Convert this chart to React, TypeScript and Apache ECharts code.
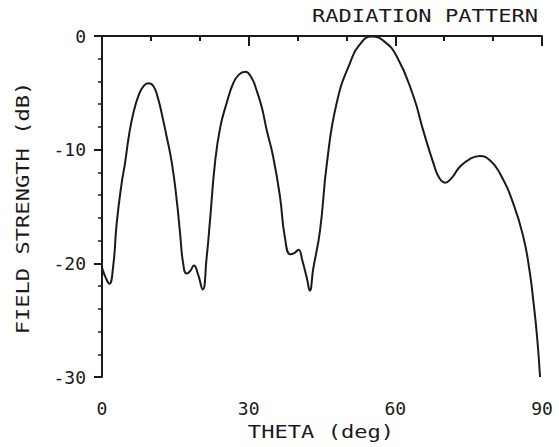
import React, { useEffect, useRef } from "react";
import * as echarts from "echarts";

const theta = [
  0, 0.8, 1.5, 2.3, 3.0, 4.0, 4.7, 5.5, 6.4, 7.5, 8.5, 9.5, 10.5, 11.4, 12.2, 13.2, 14.3, 15.3, 16.0, 16.6,
  17.3, 18.0, 18.8, 19.6, 20.6, 21.4, 22.1, 23.1, 24.2, 25.5, 26.8, 28.0, 29.3, 30.5, 31.6, 32.7, 33.7, 35.0,
  36.4, 37.4, 38.5, 39.3, 40.2, 41.0, 41.9, 42.5, 43.2, 44.6, 46.0, 48.0, 50.7, 53.0, 55.2, 57.5, 60.3, 63.7,
  65.7, 67.8, 69.0, 70.2, 71.5, 73.2, 75.3, 77.3, 79.5, 81.4, 84.1, 86.2, 87.5, 88.2, 89.0, 89.6,
];
const fieldDb = [
  -20.4, -21.3, -21.8, -20.2, -16.5, -13.0, -11.2, -8.8, -6.8, -5.2, -4.4, -4.15, -4.4, -5.4, -6.8, -8.8, -11.2,
  -14.5, -17.5, -20.0, -20.9, -20.7, -20.2, -20.9, -22.3, -19.5, -16.2, -11.2, -8.0, -5.9, -4.2, -3.4, -3.15,
  -3.6, -4.75, -6.3, -8.3, -10.6, -14.1, -17.7, -19.2, -19.1, -18.8, -19.8, -21.3, -22.4, -20.5, -17.1, -11.2,
  -5.9, -2.4, -0.6, -0.05, -0.4, -1.8, -5.3, -8.3, -11.2, -12.5, -12.9, -12.5, -11.5, -10.8, -10.55, -11.0,
  -12.1, -14.7, -17.7, -20.8, -23.2, -26.5, -30,
];
const xTicks = [0, 30, 60, 90];
const yTicks = [-30, -20, -10, 0];
const titleText = "RADIATION PATTERN";
const xName = "THETA (deg)";
const yName = "FIELD STRENGTH (dB)";

const FONT = '"DejaVu Sans Mono", monospace';
const INK = "#1a1a1a";

export default function App() {
  const ref = useRef<HTMLDivElement>(null);
  useEffect(() => {
    if (!ref.current) return;
    const chart = echarts.init(ref.current, null, { renderer: "svg" });
    const data = theta.map((t, i) => [t, fieldDb[i]]);
    chart.setOption({
      animation: false,
      backgroundColor: "#fff",
      grid: { left: 102, right: 17, top: 36, bottom: 70 },
      graphic: [
        {
          type: "text",
          x: 425,
          y: 16,
          scaleX: 1.3,
          style: { text: titleText, font: `17px ${FONT}`, fill: INK, align: "center", verticalAlign: "middle" },
        },
        {
          type: "text",
          x: 321,
          y: 432,
          scaleX: 1.3,
          style: { text: xName, font: `17px ${FONT}`, fill: INK, align: "center", verticalAlign: "middle" },
        },
        {
          type: "text",
          x: 23,
          y: 208,
          rotation: Math.PI / 2,
          scaleX: 1.3,
          style: { text: yName, font: `17px ${FONT}`, fill: INK, align: "center", verticalAlign: "middle" },
        },
      ],
      xAxis: {
        type: "value",
        min: xTicks[0],
        max: xTicks[xTicks.length - 1],
        interval: 30,
        axisLine: { lineStyle: { color: INK, width: 2 } },
        axisTick: { show: true, inside: false, length: 10, lineStyle: { color: INK, width: 2 } },
        minorTick: { show: true, splitNumber: 3, length: 5, lineStyle: { color: INK, width: 2 } },
        splitLine: { show: false },
        axisLabel: { color: INK, fontFamily: FONT, fontSize: 18, margin: 22 },
      },
      yAxis: {
        type: "value",
        min: yTicks[0],
        max: yTicks[yTicks.length - 1],
        interval: 10,
        axisLine: { show: true, lineStyle: { color: INK, width: 2 } },
        axisTick: { show: true, inside: false, length: 8, lineStyle: { color: INK, width: 2 } },
        minorTick: { show: true, splitNumber: 5, length: 4, lineStyle: { color: INK, width: 1.5 } },
        splitLine: { show: false },
        axisLabel: { color: INK, fontFamily: FONT, fontSize: 18, margin: 16 },
      },
      series: [
        {
          type: "line",
          data,
          smooth: 0.5,
          showSymbol: false,
          symbol: "none",
          lineStyle: { color: INK, width: 2 },
        },
      ],
    });
    return () => chart.dispose();
  }, []);
  return (
    <div
      ref={ref}
      style={{ position: "absolute", left: 0, top: 0, width: 559, height: 447 }}
    />
  );
}
